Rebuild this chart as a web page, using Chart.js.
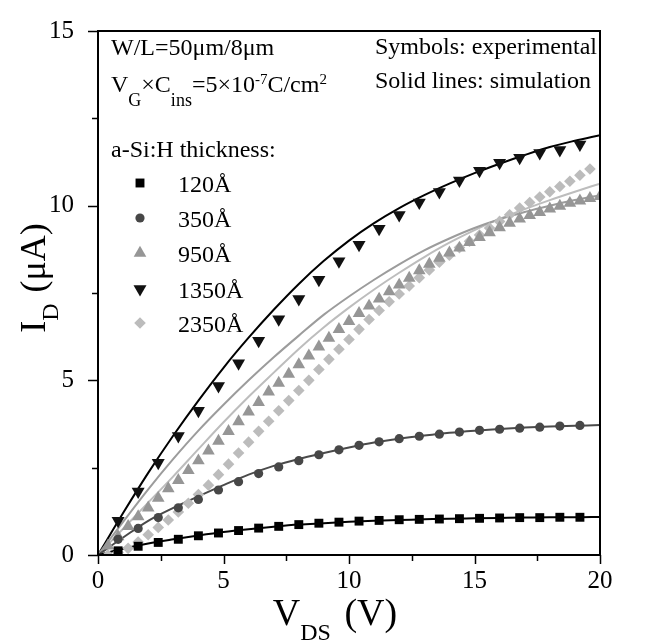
<!DOCTYPE html>
<html>
<head>
<meta charset="utf-8">
<script src="https://cdn.jsdelivr.net/npm/chart.js@4.4.1/dist/chart.umd.min.js"></script>
<style>
  html, body { margin: 0; padding: 0; background: #fff; }
  #wrap { width: 648px; height: 641px; }
</style>
</head>
<body>
<div id="wrap"><canvas id="idChart"></canvas></div>
<script>
const thickness = ["120Å", "350Å", "950Å", "1350Å", "2350Å"];

// measured points, 0.8 V step
const vdsCoarse = [0.8, 1.6, 2.4, 3.2, 4.0, 4.8, 5.6, 6.4, 7.2, 8.0, 8.8, 9.6,
  10.4, 11.2, 12.0, 12.8, 13.6, 14.4, 15.2, 16.0, 16.8, 17.6, 18.4, 19.2];
const id120 = [0.12, 0.25, 0.36, 0.45, 0.55, 0.63, 0.70, 0.77, 0.82, 0.87, 0.91, 0.94,
  0.97, 0.99, 1.01, 1.02, 1.03, 1.04, 1.05, 1.06, 1.07, 1.07, 1.08, 1.08];
const id350 = [0.45, 0.76, 1.07, 1.35, 1.59, 1.86, 2.10, 2.33, 2.52, 2.70, 2.87, 3.01,
  3.14, 3.24, 3.33, 3.40, 3.46, 3.52, 3.57, 3.60, 3.63, 3.66, 3.69, 3.71];
const id1350 = [0.98, 1.82, 2.64, 3.41, 4.13, 4.84, 5.49, 6.13, 6.75, 7.33, 7.88, 8.41,
  8.88, 9.34, 9.73, 10.09, 10.39, 10.72, 11.00, 11.23, 11.37, 11.51, 11.59, 11.75];

// measured points, 0.4 V step
const vdsFine = [0.4, 0.8, 1.2, 1.6, 2.0, 2.4, 2.8, 3.2, 3.6, 4.0, 4.4, 4.8, 5.2, 5.6, 6.0,
  6.4, 6.8, 7.2, 7.6, 8.0, 8.4, 8.8, 9.2, 9.6, 10.0, 10.4, 10.8, 11.2, 11.6, 12.0, 12.4,
  12.8, 13.2, 13.6, 14.0, 14.4, 14.8, 15.2, 15.6, 16.0, 16.4, 16.8, 17.2, 17.6, 18.0,
  18.4, 18.8, 19.2, 19.6, 20.0];
const id950 = [0.26, 0.53, 0.82, 1.10, 1.35, 1.63, 1.90, 2.14, 2.42, 2.70, 2.98, 3.26,
  3.54, 3.82, 4.10, 4.37, 4.67, 4.92, 5.18, 5.45, 5.70, 5.96, 6.21, 6.46, 6.69, 6.92,
  7.13, 7.33, 7.54, 7.73, 7.93, 8.14, 8.33, 8.50, 8.65, 8.79, 8.95, 9.09, 9.23, 9.37,
  9.50, 9.62, 9.72, 9.81, 9.91, 9.99, 10.07, 10.14, 10.21, 10.27];
const id2350 = [0.00, 0.07, 0.19, 0.37, 0.58, 0.79, 1.00, 1.23, 1.48, 1.73, 2.00, 2.30,
  2.60, 2.92, 3.23, 3.54, 3.83, 4.13, 4.42, 4.71, 5.00, 5.31, 5.60, 5.89, 6.17, 6.46,
  6.74, 7.00, 7.25, 7.47, 7.70, 7.94, 8.16, 8.38, 8.58, 8.80, 8.98, 9.16, 9.36, 9.55,
  9.74, 9.93, 10.09, 10.25, 10.40, 10.55, 10.70, 10.87, 11.05];

// simulation, 1 V step
const vdsSim = [0, 1, 2, 3, 4, 5, 6, 7, 8, 9, 10, 11, 12, 13, 14, 15, 16, 17, 18, 19, 20];
const sim120 = [0, 0.18, 0.33, 0.45, 0.56, 0.66, 0.74, 0.81, 0.87, 0.91, 0.95, 0.98,
  1.00, 1.02, 1.04, 1.05, 1.06, 1.07, 1.08, 1.08, 1.09];
const sim350 = [0, 0.50, 0.98, 1.35, 1.68, 2.00, 2.30, 2.55, 2.75, 2.92, 3.08, 3.22,
  3.33, 3.42, 3.50, 3.56, 3.61, 3.65, 3.68, 3.70, 3.72];
const sim950 = [0, 0.95, 1.88, 2.75, 3.56, 4.30, 5.00, 5.66, 6.28, 6.88, 7.40, 7.88,
  8.32, 8.72, 9.06, 9.36, 9.61, 9.82, 10.00, 10.16, 10.30];
const sim1350 = [0, 1.20, 2.35, 3.42, 4.42, 5.36, 6.22, 7.02, 7.76, 8.42, 9.00, 9.50,
  9.93, 10.30, 10.63, 10.93, 11.20, 11.45, 11.68, 11.86, 12.02];
const sim2350 = [0, 0.75, 1.50, 2.25, 3.03, 3.80, 4.53, 5.22, 5.90, 6.52, 7.08, 7.60,
  8.08, 8.53, 8.94, 9.30, 9.62, 9.90, 10.16, 10.40, 10.63];

const yTicks = [0, 5, 10, 15];
const xTicks = [0, 5, 10, 15, 20];

const FONT = '"Liberation Serif", "Times New Roman", serif';
const markColors = ["#000000", "#474747", "#969696", "#111111", "#bcbcbc"];
const lineColors = ["#000000", "#4a4a4a", "#9c9c9c", "#000000", "#bdbdbd"];
const markStyles = [
  { pointStyle: "rect", radius: 6.3, rotation: 0 },
  { pointStyle: "circle", radius: 4.6, rotation: 0 },
  { pointStyle: "triangle", radius: 7.3, rotation: 0 },
  { pointStyle: "triangle", radius: 7.5, rotation: 180 },
  { pointStyle: "rectRot", radius: 5.8, rotation: 0 },
];

function pts(xs, ys) {
  return ys.map((y, i) => ({ x: xs[i], y: y }));
}

const measured = [
  pts(vdsCoarse, id120), pts(vdsCoarse, id350), pts(vdsFine, id950),
  pts(vdsCoarse, id1350), pts(vdsFine, id2350)
];
const simulated = [sim120, sim350, sim950, sim1350, sim2350].map(s => pts(vdsSim, s));

const datasets = [];
simulated.forEach((d, i) => {
  datasets.push({
    label: thickness[i] + " sim",
    data: d,
    showLine: true,
    borderColor: lineColors[i],
    borderWidth: 2,
    pointRadius: 0,
    cubicInterpolationMode: "monotone",
    order: 2,
  });
});
measured.forEach((d, i) => {
  datasets.push({
    label: thickness[i],
    data: d,
    showLine: false,
    backgroundColor: markColors[i],
    pointBackgroundColor: markColors[i],
    pointBorderWidth: 0,
    pointStyle: markStyles[i].pointStyle,
    pointRadius: markStyles[i].radius,
    rotation: markStyles[i].rotation,
    order: 1,
  });
});

function drawRich(ctx, parts, x, y) {
  parts.forEach(p => {
    ctx.font = p.size + "px " + FONT;
    ctx.fillText(p.t, x, y + (p.dy || 0));
    x += ctx.measureText(p.t).width + (p.gap || 0);
  });
}
function richWidth(ctx, parts) {
  let w = 0;
  parts.forEach(p => {
    ctx.font = p.size + "px " + FONT;
    w += ctx.measureText(p.t).width + (p.gap || 0);
  });
  return w;
}

const framePlugin = {
  id: "frame",
  afterDatasetsDraw(chart) {
    const ctx = chart.ctx;
    const a = chart.chartArea;
    const xs = chart.scales.x, ys = chart.scales.y;
    ctx.save();
    ctx.strokeStyle = "#000";
    ctx.lineWidth = 2;
    ctx.strokeRect(a.left, a.top, a.right - a.left, a.bottom - a.top);
    ctx.lineWidth = 1.5;
    ctx.beginPath();
    for (let v = 0; v <= 15; v += 2.5) {
      const py = Math.round(ys.getPixelForValue(v)) + 0.5;
      const len = v % 5 === 0 ? 10 : 6;
      ctx.moveTo(a.left, py);
      ctx.lineTo(a.left - len, py);
    }
    for (let v = 0; v <= 20; v += 2.5) {
      const px = Math.round(xs.getPixelForValue(v)) + 0.5;
      const len = v % 5 === 0 ? 9 : 6;
      ctx.moveTo(px, a.bottom);
      ctx.lineTo(px, a.bottom + len);
    }
    ctx.stroke();
    ctx.restore();
  },
  afterDraw(chart) {
    const ctx = chart.ctx;
    ctx.save();
    ctx.fillStyle = "#000";
    ctx.textAlign = "left";
    ctx.textBaseline = "alphabetic";

    const fs = 24;
    drawRich(ctx, [{ t: "W/L=50μm/8μm", size: fs }], 111, 55);
    drawRich(ctx, [
      { t: "V", size: fs }, { t: "G", size: 18, dy: 14 },
      { t: "×C", size: fs }, { t: "ins", size: 18, dy: 14 },
      { t: "=5×10", size: fs }, { t: "-7", size: 15, dy: -8 },
      { t: "C/cm", size: fs }, { t: "2", size: 15, dy: -8 }
    ], 111, 92);
    drawRich(ctx, [{ t: "a-Si:H thickness:", size: fs }], 111, 157);
    drawRich(ctx, [{ t: "Symbols: experimental", size: fs }], 375, 54);
    drawRich(ctx, [{ t: "Solid lines: simulation", size: fs }], 375, 88);

    const rows = [183, 218, 253, 289, 323];
    rows.forEach((ry, i) => {
      ctx.fillStyle = markColors[i];
      Chart.helpers.drawPoint(ctx, {
        pointStyle: markStyles[i].pointStyle,
        radius: markStyles[i].radius,
        rotation: markStyles[i].rotation,
        borderWidth: 0
      }, 140, ry);
      ctx.fillStyle = "#000";
      drawRich(ctx, [{ t: thickness[i], size: fs }], 178, ry + 9);
    });

    // x axis title
    const xt = [{ t: "V", size: 38 }, { t: "DS", size: 24, dy: 15, gap: 4 }, { t: " (V)", size: 38 }];
    const xw = richWidth(ctx, xt);
    drawRich(ctx, xt, 335 - xw / 2, 625);

    // y axis title
    const yt = [{ t: "I", size: 36 }, { t: "D", size: 24, dy: 13, gap: 2 }, { t: " (μA)", size: 36 }];
    const yw = richWidth(ctx, yt);
    ctx.translate(45, 278);
    ctx.rotate(-Math.PI / 2);
    drawRich(ctx, yt, -yw / 2, 0);
    ctx.restore();
  }
};

new Chart(document.getElementById("idChart"), {
  type: "scatter",
  data: { datasets: datasets },
  options: {
    responsive: true,
    maintainAspectRatio: false,
    animation: false,
    layout: { padding: { top: 19, right: 48, left: 0, bottom: 0 } },
    plugins: { legend: { display: false }, tooltip: { enabled: false } },
    scales: {
      x: {
        type: "linear",
        min: 0,
        max: 20,
        afterFit: s => { s.height = 86; },
        afterBuildTicks: s => { s.ticks = xTicks.map(v => ({ value: v })); },
        grid: { display: false },
        border: { display: false },
        ticks: { font: { family: FONT, size: 25 }, color: "#000", padding: 3, maxRotation: 0 },
      },
      y: {
        type: "linear",
        min: 0,
        max: 15,
        afterFit: s => { s.width = 98; },
        afterBuildTicks: s => { s.ticks = yTicks.map(v => ({ value: v })); },
        grid: { display: false },
        border: { display: false },
        ticks: { font: { family: FONT, size: 25 }, color: "#000", padding: 16 },
      },
    },
  },
  plugins: [framePlugin],
});
</script>
</body>
</html>
